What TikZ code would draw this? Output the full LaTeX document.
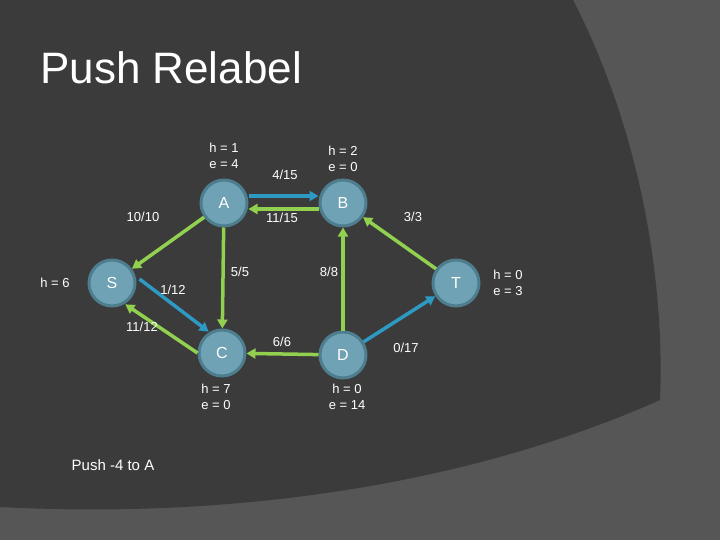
\documentclass[tikz,border=0pt]{standalone}
\usepackage{fontspec}
\setmainfont{Liberation Sans}
\usetikzlibrary{arrows.meta}
\definecolor{bgl}{HTML}{565656}
\definecolor{bgd}{HTML}{3B3B3B}
\definecolor{nodef}{HTML}{6FA2B4}
\definecolor{nodeb}{HTML}{4E7D8D}
\definecolor{gr}{HTML}{92D050}
\definecolor{bl}{HTML}{2E9AC4}
\begin{document}
\begin{tikzpicture}[x=1pt,y=-1pt,
  vert/.style={circle,fill=nodef,draw=nodeb,line width=3pt,minimum size=46pt,inner sep=0pt,text=white,font=\fontsize{16}{16}\selectfont},
  lbl/.style={text=white,font=\fontsize{13}{16}\selectfont,align=center,inner sep=0pt},
  ge/.style={draw=gr,line width=3.5pt,-{Triangle[length=9pt,width=10pt]}},
  be/.style={draw=bl,line width=3.5pt,-{Triangle[length=9pt,width=10pt]}}]
\useasboundingbox (0,0) rectangle (720,540);
\fill[bgl] (0,0) rectangle (720,540);
\fill[bgd] (0,0) -- (573,0) .. controls (640,130) and (665,280) .. (660,400)
  .. controls (480,480) and (250,520) .. (0,507) -- cycle;
\node[text=white,anchor=base west,font=\fontsize{44}{44}\selectfont,inner sep=0pt] (title) at (40,84) {Push Relabel};
\node[vert] (A) at (224,203) {A};
\node[vert] (B) at (343,203) {B};
\node[vert] (S) at (112,283) {S};
\node[vert] (T) at (456,283) {T};
\node[vert] (C) at (222,353) {C};
\node[vert] (D) at (343,355) {D};
\draw[be] ([yshift=7pt]A.east) -- ([yshift=7pt]B.west);
\draw[ge] ([yshift=-6pt]B.west) -- ([yshift=-6pt]A.east);
\draw[ge] (A) -- (S);
\draw[ge] (A) -- (C);
\draw[be] ([shift={(3pt,4pt)}]S.east) -- ([shift={(4pt,4pt)}]C.north west);
\draw[ge] (C.west) -- ([shift={(-4pt,-4pt)}]S.south east);
\draw[ge] (D) -- (B);
\draw[ge] (T) -- (B);
\draw[ge] (D) -- (C);
\draw[be] (D) -- (T);
\node[lbl] (la) at (224,156) {h = 1\\e = 4};
\node[lbl] (lb) at (343,159) {h = 2\\e = 0};
\node[lbl] (lc) at (216,397) {h = 7\\e = 0};
\node[lbl] (ld) at (347,397) {h = 0\\e = 14};
\node[lbl] (lt) at (508,283) {h = 0\\e = 3};
\node[lbl] (ls) at (55,283) {h = 6};
\node[lbl] (e1) at (285,175) {4/15};
\node[lbl] (e2) at (282,218) {11/15};
\node[lbl] (e3) at (143,217) {10/10};
\node[lbl] (e4) at (413,217) {3/3};
\node[lbl] (e5) at (240,272) {5/5};
\node[lbl] (e6) at (329,272) {8/8};
\node[lbl] (e7) at (173,290) {1/12};
\node[lbl] (e8) at (142,327) {11/12};
\node[lbl] (e9) at (282,342) {6/6};
\node[lbl] (e10) at (406,348) {0/17};
\node[lbl,font=\fontsize{15}{18}\selectfont] (push) at (113,465) {Push -4 to A};
\end{tikzpicture}
\end{document}
